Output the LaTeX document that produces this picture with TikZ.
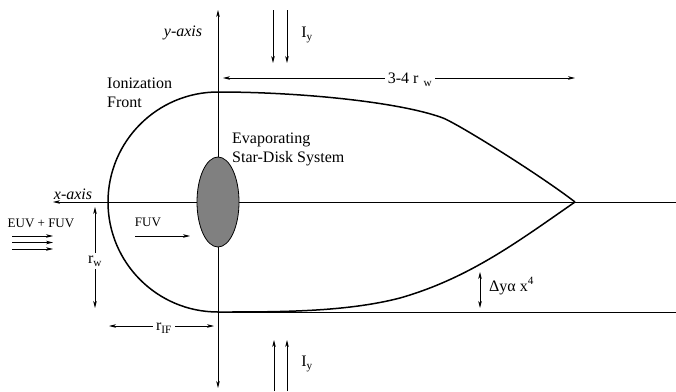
\documentclass[tikz,border=0pt]{standalone}
\usepackage{fontspec}
\setmainfont{Liberation Serif}
\usetikzlibrary{arrows.meta,shapes.geometric}
\begin{document}
\begin{tikzpicture}[x=1pt,y=-1pt,
  thinline/.style={line width=0.8pt,black},
  arr/.style={thinline,-{Stealth[length=7pt,width=3.6pt,inset=2pt]}},
  darr/.style={thinline,{Stealth[length=7pt,width=3.6pt,inset=2pt]}-{Stealth[length=7pt,width=3.6pt,inset=2pt]}},
  front/.style={line width=1.5pt,black,line join=round},
  big/.style={font=\fontsize{16}{19}\selectfont,inner sep=0pt},
  small/.style={font=\fontsize{13}{15}\selectfont,inner sep=0pt},
  gaplabel/.style={big,fill=white,inner sep=3pt}]
\useasboundingbox (0,0) rectangle (676,391);
% coordinates
\coordinate (xend) at (676,202);
\coordinate (xtip) at (53,202);
\coordinate (ytop) at (218,10);
\coordinate (ybot) at (218,388);
\coordinate (btmL) at (218,312);
\coordinate (btmR) at (676,312);
\coordinate (tip) at (575,202);
% axes
\draw[arr] (xend) -- (xtip);
\draw[darr] (ybot) -- (ytop);
\draw[thinline] (btmL) -- (btmR);
% ionization front
\draw[front] (tip) .. controls (520,240) and (470,278) .. (400,298)
  .. controls (346,312) and (280,312) .. (btmL)
  .. controls (157.25,312) and (108,262.75) .. (108,202)
  .. controls (108,141.25) and (157.25,92) .. (218,92)
  .. controls (300,92) and (400,102) .. (443,118)
  .. controls (460,125) and (540,175) .. (tip);
% disk
\node[ellipse,draw=black,line width=0.8pt,fill=black!50,minimum width=42pt,minimum height=90pt,inner sep=0pt] (disk) at (218,202) {};
% labels
\node[big] (ylab) at (183,33) {\itshape y-axis};
\node[big] (xlab) at (73,194) {\itshape x-axis};
\node[big,anchor=north west,align=left] (ifront) at (107,78) {Ionization\\Front};
\node[big,anchor=north west,align=left] (evap) at (232,133) {Evaporating\\Star-Disk System};
\node[small] (euv) at (41,223) {EUV + FUV};
\node[small] (fuv) at (148,222) {FUV};
\node[big] (iytop) at (307,35) {I\textsubscript{y}};
\node[big] (iybot) at (307,364) {I\textsubscript{y}};
% I_y arrows
\coordinate (t1a) at (273,10); \coordinate (t1b) at (273,63);
\coordinate (t2a) at (287,10); \coordinate (t2b) at (287,63);
\coordinate (b1a) at (274,391); \coordinate (b1b) at (274,340);
\coordinate (b2a) at (287,391); \coordinate (b2b) at (287,340);
\draw[arr] (t1a) -- (t1b);
\draw[arr] (t2a) -- (t2b);
\draw[arr] (b1a) -- (b1b);
\draw[arr] (b2a) -- (b2b);
% EUV arrows
\foreach \yy in {236,242.5,249}{
  \draw[arr] (12,\yy) -- (53,\yy);
}
% FUV arrow
\coordinate (fuva) at (135,236); \coordinate (fuvb) at (190,236);
\draw[arr] (fuva) -- (fuvb);
% 3-4 r_w
\coordinate (lwL) at (223,78); \coordinate (lwR) at (575,78);
\draw[darr] (lwR) -- (lwL);
\node[gaplabel] (lw) at (410,80) {3-4 r\hspace{5pt}\textsubscript{w}};
% r_w vertical
\coordinate (rwT) at (95,207); \coordinate (rwB) at (95,308);
\node[big] (rw) at (95,261) {r\textsubscript{w}};
\draw[arr] ([yshift=3pt]rw.north) -- (rwT);
\draw[arr] ([yshift=-3pt]rw.south) -- (rwB);
% r_IF
\coordinate (rifL) at (109,326); \coordinate (rifR) at (214,326);
\draw[darr] (rifL) -- (rifR);
\node[gaplabel] (rif) at (164,328) {r\textsubscript{IF}};
% Delta y
\coordinate (dyT) at (480,272); \coordinate (dyB) at (480,308);
\draw[darr] (dyT) -- (dyB);
\node[big,anchor=west] (dy) at (489,286) {Δyα x\textsuperscript{4}};
\end{tikzpicture}
\end{document}
